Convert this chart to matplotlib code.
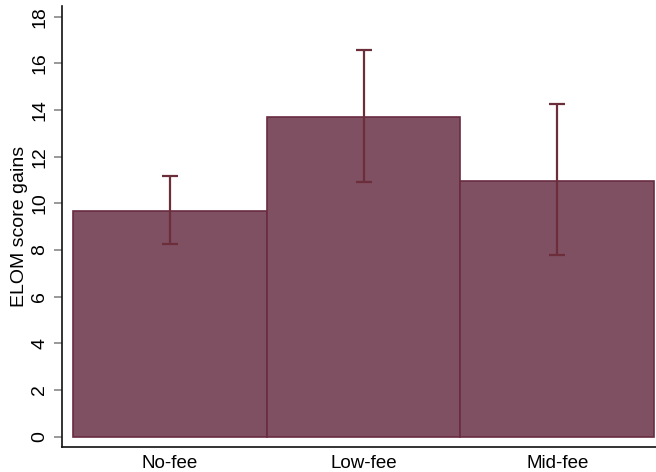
import matplotlib
matplotlib.use("Agg")
import matplotlib.pyplot as plt
import numpy as np

categories = ["No-fee", "Low-fee", "Mid-fee"]
means = [9.67, 13.70, 10.95]
ci_low = [8.25, 10.90, 7.79]
ci_high = [11.19, 16.55, 14.26]
yticks = [0, 2, 4, 6, 8, 10, 12, 14, 16, 18]

fig = plt.figure(figsize=(6.56, 4.72), dpi=100)
ax = fig.add_axes([0.0945, 0.053, 0.9055, 0.934])

x = np.arange(len(categories))
ax.bar(x, means, width=1.0, color="#7f4f62", edgecolor="#6a2c42", linewidth=1.2, zorder=2)
means_a = np.array(means)
yerr = [means_a - np.array(ci_low), np.array(ci_high) - means_a]
ax.errorbar(x, means, yerr=yerr, fmt="none", ecolor="#6b2e3a", elinewidth=1.6,
            capsize=6, capthick=1.6, zorder=3)

ax.set_xlim(-0.557, 2.51)
ax.set_ylim(-0.44, 18.45)
ax.set_yticks(yticks)
ax.set_yticklabels([str(t) for t in yticks], rotation=90, va="center",
                   fontsize=14, family="Liberation Sans")
ax.set_xticks(x)
ax.set_xticklabels(categories, fontsize=13.5, family="Liberation Sans")
ax.tick_params(axis="x", length=0, pad=6)
ax.tick_params(axis="y", length=6, width=1.2, color="#888888", pad=4)
ax.set_ylabel("ELOM score gains", fontsize=14, family="Liberation Sans")
ax.yaxis.set_label_coords(-0.057, 0.5)
for s in ["top", "right"]:
    ax.spines[s].set_visible(False)
for s in ["left", "bottom"]:
    ax.spines[s].set_linewidth(1.2)
    ax.spines[s].set_color("#111111")

fig.savefig("out.png", dpi=100)
